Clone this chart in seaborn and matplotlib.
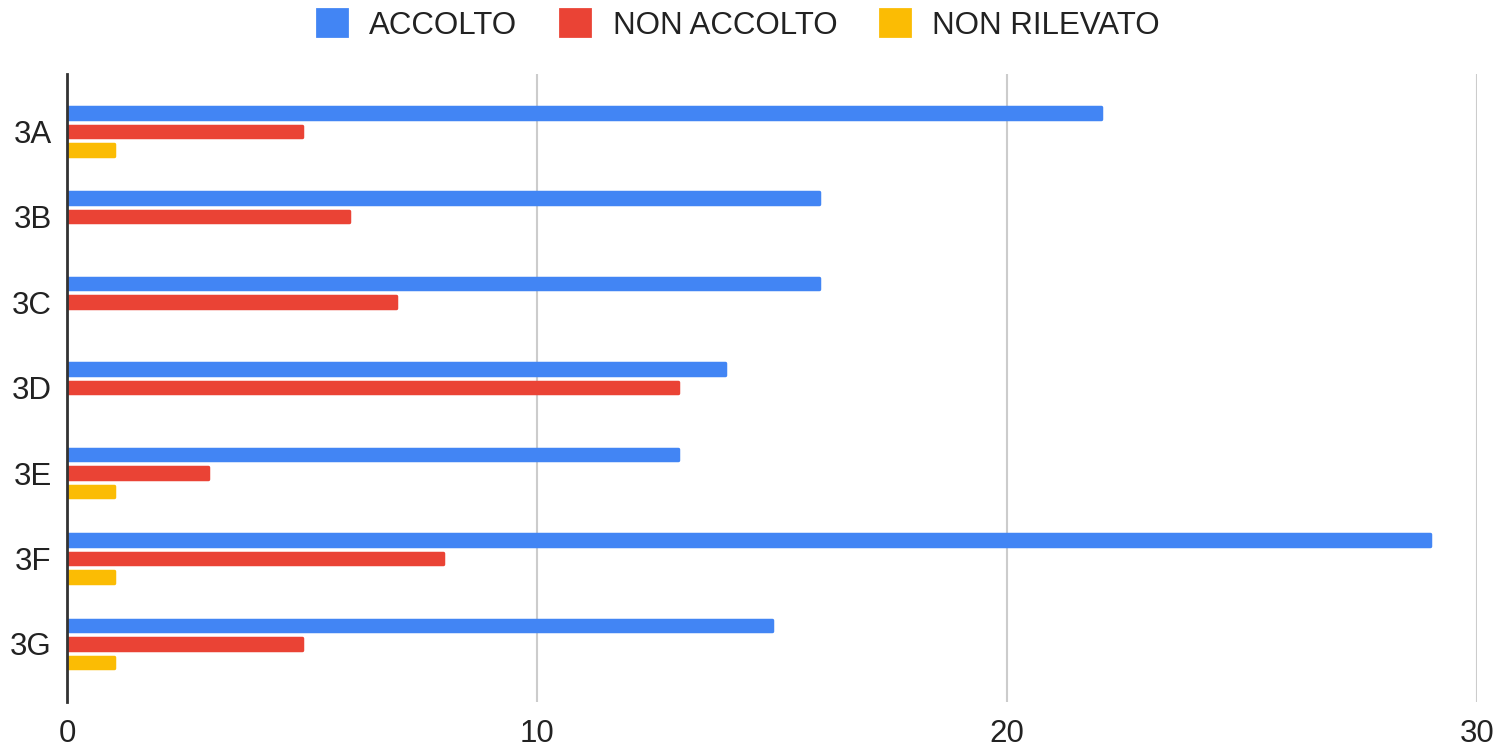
import pandas as pd
import matplotlib
matplotlib.use("Agg")
import matplotlib.pyplot as plt
from matplotlib.patches import Patch
import seaborn as sns

# Data #

classi = ['3A', '3B', '3C', '3D', '3E', '3F', '3G']
accolto = [22, 16, 16, 14, 13, 29, 15]
non_accolto = [5, 6, 7, 13, 3, 8, 5]
non_rilevato = [1, 0, 0, 0, 1, 1, 1]
esiti = ['ACCOLTO', 'NON ACCOLTO', 'NON RILEVATO']

df = pd.DataFrame({'Classe': classi,
                   'ACCOLTO': accolto,
                   'NON ACCOLTO': non_accolto,
                   'NON RILEVATO': non_rilevato})
long = pd.melt(df, ['Classe'], var_name='Esito', value_name='Numero')

# Style #

sns.set_style("white")
plt.rcParams['font.family'] = ['Liberation Sans', 'DejaVu Sans']
colors = ['#4285F4', '#EA4335', '#FBBC04']

fig = plt.figure(figsize=(15.09, 7.47), dpi=100)
ax = fig.add_axes([0.0444, 0.0602, 0.9344, 0.8407])

sns.barplot(data=long, y='Classe', x='Numero', hue='Esito', orient='h',
            palette=colors, saturation=1, width=0.65, gap=0.38, ax=ax,
            legend=False)

# rounded ends, hide empty bars
for p in ax.patches:
    if p.get_width() == 0:
        p.set_visible(False)
        continue
    p.set_edgecolor(p.get_facecolor())
    p.set_linewidth(2.5)
    p.set_joinstyle('round')

ax.set_xlim(0, 30)
ax.set_ylim(6.68, -0.67)
ax.set_xticks([0, 10, 20, 30])
ax.xaxis.grid(True, color='#cccccc', linewidth=1.5)
ax.set_axisbelow(True)
for s in ['top', 'right', 'bottom']:
    ax.spines[s].set_visible(False)
ax.spines['left'].set_color('#333333')
ax.spines['left'].set_linewidth(2)
ax.spines['left'].set_zorder(5)
ax.tick_params(axis='x', length=0, pad=12, labelsize=22.5, labelcolor='#222222')
ax.tick_params(axis='y', length=0, pad=11, labelsize=22.5, labelcolor='#222222')
ax.set_xlabel('')
ax.set_ylabel('')

handles = [Patch(facecolor=c, edgecolor=c, linewidth=2, joinstyle='round')
           for c in colors]
fig.legend(handles, esiti, loc='center', bbox_to_anchor=(0.4894, 0.9665), ncol=3,
           frameon=False, fontsize=22.5, handlelength=0.95, handleheight=0.95,
           handletextpad=0.72, columnspacing=1.38, labelcolor='#222222')

fig.savefig('out.png', dpi=100)
